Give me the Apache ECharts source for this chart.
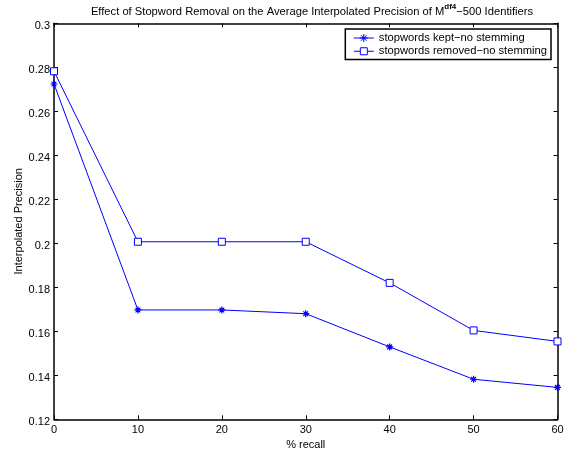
<!DOCTYPE html>
<html><head><meta charset="utf-8">
<script src="https://cdn.jsdelivr.net/npm/echarts@6/dist/echarts.min.js"></script>
<style>html,body{margin:0;padding:0;background:#fff}#c{width:569px;height:455px}</style>
</head><body><div id="c"></div>
<script>
const recall = [0, 10, 20, 30, 40, 50, 60];
const keptNoStem = [0.2724, 0.1697, 0.1697, 0.1680, 0.1529, 0.1382, 0.1345];
const removedNoStem = [0.2782, 0.2007, 0.2007, 0.2007, 0.1820, 0.1604, 0.1554];
const seriesNames = ['stopwords kept\u2212no stemming', 'stopwords removed\u2212no stemming'];
const xTicks = [0, 10, 20, 30, 40, 50, 60];
const yMin = 0.12, yMax = 0.3, yStep = 0.02;

const FONT = 'Liberation Sans, Arial, Helvetica, sans-serif';
const BLUE = '#0000ff';
const asterisk = 'path://M5 0L5 10M0 5L10 5M1.6 1.6L8.4 8.4M8.4 1.6L1.6 8.4';
const legendAsterisk = 'path://M0 4.5L20 4.5M10 0.5L10 8.5M6 4.5L14 4.5M7.2 1.7L12.8 7.3M12.8 1.7L7.2 7.3M0 0M20 9';
const legendSquare = 'path://M0 4.5L6.5 4.5M13.5 4.5L20 4.5M6.5 1L13.5 1L13.5 8L6.5 8ZM0 0M20 9';

const chart = echarts.init(document.getElementById('c'), null, {renderer: 'canvas'});
function tick() { return {show: true, inside: true, length: 4, lineStyle: {color: '#000', width: 1}}; }
function line() { return {show: true, onZero: false, lineStyle: {color: '#000', width: 1.5}}; }
chart.setOption({
  animation: false,
  backgroundColor: '#fff',
  title: {
    text: '{a|Effect of Stopword Removal on the Average Interpolated Precision of M}{s|df4}{a|\u2212500 Identifiers}',
    left: 307, top: -2, textAlign: 'center',
    textStyle: {
      rich: {
        a: {fontFamily: FONT, fontSize: 11.2, color: '#000', fontWeight: 'normal', verticalAlign: 'bottom', lineHeight: 14},
        s: {fontFamily: FONT, fontSize: 8, color: '#000', verticalAlign: 'top', lineHeight: 14, padding: [0, 0, 6, 0]}
      }
    }
  },
  legend: {
    orient: 'vertical',
    right: 18, top: 29,
    data: [
      {name: seriesNames[0], icon: legendAsterisk},
      {name: seriesNames[1], icon: legendSquare}
    ],
    backgroundColor: '#fff',
    borderColor: '#000', borderWidth: 1.5,
    padding: [2, 4, 2, 6],
    itemGap: 0,
    itemWidth: 20, itemHeight: 9,
    itemStyle: {borderWidth: 1},
    lineStyle: {width: 1},
    textStyle: {fontFamily: FONT, fontSize: 11.2, color: '#000', lineHeight: 12.5}
  },
  grid: {left: 54, right: 11.5, top: 23.3, bottom: 35.7, containLabel: false, outerBoundsMode: 'none'},
  xAxis: [
    {
      type: 'value', min: 0, max: 60, interval: 10, position: 'bottom',
      axisLine: line(), axisTick: tick(), splitLine: {show: false},
      name: '% recall', nameLocation: 'middle', nameGap: 20, nameMoveOverlap: false,
      nameTextStyle: {fontFamily: FONT, fontSize: 11, color: '#000'},
      axisLabel: {fontFamily: FONT, fontSize: 11, color: '#000', margin: 5,
        formatter: v => xTicks.includes(v) ? String(v) : ''}
    },
    {
      type: 'value', min: 0, max: 60, interval: 10, position: 'top',
      axisLine: line(), axisTick: tick(), splitLine: {show: false},
      axisLabel: {show: false}
    }
  ],
  yAxis: [
    {
      type: 'value', min: yMin, max: yMax, interval: yStep, position: 'left',
      axisLine: line(), axisTick: tick(), splitLine: {show: false},
      name: 'Interpolated Precision', nameLocation: 'middle', nameGap: 30, nameRotate: 90, nameMoveOverlap: false,
      nameTextStyle: {fontFamily: FONT, fontSize: 11, color: '#000'},
      axisLabel: {fontFamily: FONT, fontSize: 11, color: '#000', margin: 4,
        verticalAlign: 'top', lineHeight: 6,
        formatter: v => String(parseFloat(v.toFixed(2)))}
    },
    {
      type: 'value', min: yMin, max: yMax, interval: yStep, position: 'right',
      axisLine: line(), axisTick: tick(), splitLine: {show: false},
      axisLabel: {show: false}
    }
  ],
  series: [
    {
      name: seriesNames[0], type: 'line',
      data: recall.map((r, i) => [r, keptNoStem[i]]),
      symbol: asterisk, symbolSize: 7, showAllSymbol: true,
      lineStyle: {color: BLUE, width: 1},
      itemStyle: {color: 'none', borderColor: BLUE, borderWidth: 1.2},
      clip: false
    },
    {
      name: seriesNames[1], type: 'line',
      data: recall.map((r, i) => [r, removedNoStem[i]]),
      symbol: 'rect', symbolSize: 7, showAllSymbol: true,
      lineStyle: {color: BLUE, width: 1},
      itemStyle: {color: '#fff', borderColor: BLUE, borderWidth: 1},
      clip: false
    }
  ]
});
</script></body></html>
